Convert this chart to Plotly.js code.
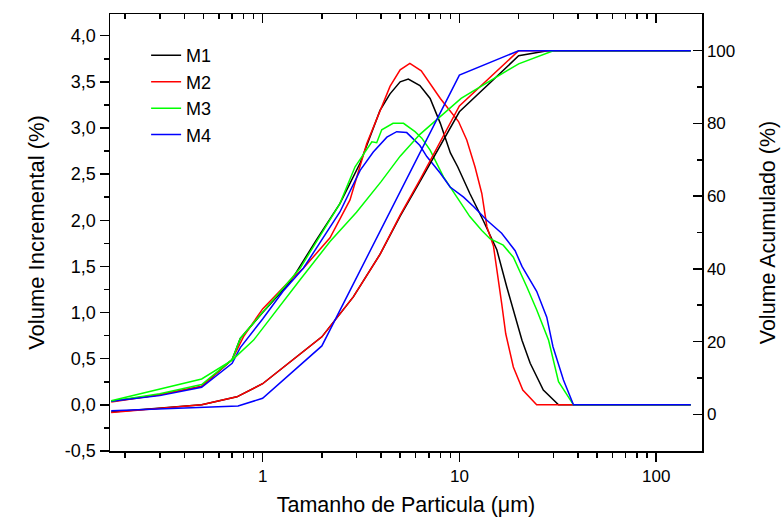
<!DOCTYPE html>
<html>
<head>
<meta charset="utf-8">
<script src="https://cdn.plot.ly/plotly-3.0.1.min.js"></script>
<style>html,body{margin:0;padding:0;background:#fff;}#chart{width:784px;height:517px;}</style>
</head>
<body>
<div id="chart"></div>
<script>
// ---- Data (particle size in µm) ----
const seriesNames = ["M1", "M2", "M3", "M4"];
const seriesColors = ["#000000", "#ff0000", "#00ff00", "#0000ff"];

// Incremental volume (%), left axis
const m1IncX = [0.17, 0.3, 0.49, 0.7, 0.77, 1.0, 1.38, 1.88, 2.47, 3.13, 3.95, 4.44, 5.0, 5.5, 6.3, 7.1, 8.0, 9.0, 9.8, 11.3, 13.2, 15.5, 17.4, 18.8, 20.8, 22.9, 26.7, 31.9, 150];
const m1IncY = [0.04, 0.11, 0.2, 0.49, 0.72, 1.0, 1.33, 1.79, 2.18, 2.62, 3.19, 3.37, 3.50, 3.53, 3.46, 3.32, 3.05, 2.73, 2.58, 2.29, 2.0, 1.68, 1.28, 1.03, 0.70, 0.45, 0.16, 0.0, 0.0];
const m2IncX = [0.17, 0.3, 0.49, 0.7, 0.8, 1.0, 1.38, 1.61, 2.2, 2.78, 3.38, 3.95, 4.44, 5.0, 5.6, 6.4, 7.1, 8.0, 9.9, 10.9, 12.0, 13.0, 13.8, 14.9, 16.4, 17.2, 18.8, 21.0, 24.7, 150];
const m2IncY = [0.03, 0.11, 0.2, 0.49, 0.74, 1.04, 1.35, 1.48, 1.81, 2.22, 2.83, 3.19, 3.45, 3.63, 3.70, 3.62, 3.48, 3.32, 3.07, 2.87, 2.58, 2.29, 1.93, 1.72, 1.1, 0.77, 0.41, 0.16, 0.0, 0.0];
const m3IncX = [0.17, 0.3, 0.49, 0.7, 0.77, 1.0, 1.55, 2.47, 2.95, 3.59, 3.8, 4.03, 4.6, 5.2, 5.95, 6.44, 7.1, 8.3, 9.7, 11.3, 13.0, 14.3, 16.7, 18.8, 22.0, 24.7, 28.4, 31.9, 38.0, 150];
const m3IncY = [0.04, 0.12, 0.22, 0.49, 0.72, 1.0, 1.48, 2.18, 2.58, 2.85, 2.84, 2.98, 3.05, 3.05, 2.96, 2.89, 2.76, 2.47, 2.25, 2.04, 1.89, 1.80, 1.73, 1.60, 1.28, 1.03, 0.70, 0.25, 0.0, 0.0];
const m4IncX = [0.17, 0.3, 0.49, 0.7, 0.77, 1.0, 1.27, 1.61, 2.47, 3.13, 3.65, 4.28, 4.8, 5.4, 6.3, 6.83, 8.0, 8.97, 10.5, 11.8, 13.8, 16.4, 19.2, 20.8, 24.7, 27.8, 29.9, 33.8, 38.0, 150];
const m4IncY = [0.04, 0.1, 0.19, 0.45, 0.62, 0.93, 1.23, 1.48, 2.09, 2.54, 2.74, 2.90, 2.96, 2.95, 2.81, 2.69, 2.51, 2.36, 2.25, 2.15, 2.0, 1.86, 1.67, 1.50, 1.23, 0.95, 0.63, 0.27, 0.0, 0.0];

// Cumulative volume (%), right axis
const m1CumX = [0.17, 0.49, 0.74, 1, 2, 2.89, 3.95, 5.0, 6.3, 10, 20, 28, 150];
const m1CumY = [0.6, 2.6, 4.8, 8.4, 21.3, 32.3, 44, 54.5, 64, 83.2, 98.6, 100, 100];
const m2CumX = [0.17, 0.49, 0.74, 1, 2, 2.89, 3.95, 5.0, 6.3, 10, 20, 150];
const m2CumY = [0.5, 2.6, 4.8, 8.4, 21.3, 32.3, 44, 54.8, 64.5, 84.8, 100, 100];
const m3CumX = [0.17, 0.49, 0.7, 0.9, 1.55, 2.2, 3, 4, 5, 6.3, 10.2, 20, 30, 150];
const m3CumY = [3.7, 9.7, 14.9, 20.4, 37, 47.5, 55.6, 64, 71, 77, 86.9, 96.4, 100, 100];
const m4CumX = [0.17, 0.75, 1, 2, 10, 20, 150];
const m4CumY = [1.0, 2.3, 4.4, 18.8, 93.3, 100, 100];

const xTickVals = [1, 10, 100];
const xTickText = ["1", "10", "100"];
const yLeftTicks = [-0.5, 0, 0.5, 1, 1.5, 2, 2.5, 3, 3.5, 4];
const yLeftText = ["-0,5", "0,0", "0,5", "1,0", "1,5", "2,0", "2,5", "3,0", "3,5", "4,0"];
const yRightTicks = [0, 20, 40, 60, 80, 100];

// ---- build ----
const incX = [m1IncX, m2IncX, m3IncX, m4IncX];
const incY = [m1IncY, m2IncY, m3IncY, m4IncY];
const cumX = [m1CumX, m2CumX, m3CumX, m4CumX];
const cumY = [m1CumY, m2CumY, m3CumY, m4CumY];

const FONT = 'Arial, "Liberation Sans", sans-serif';
const traces = [];
for (let i = 0; i < 4; i++) {
  traces.push({
    x: incX[i], y: incY[i], type: 'scatter', mode: 'lines',
    name: seriesNames[i],
    line: {color: seriesColors[i], width: 1.5},
    xaxis: 'x', yaxis: 'y', showlegend: true, hoverinfo: 'skip'
  });
}
for (let i = 0; i < 4; i++) {
  traces.push({
    x: cumX[i], y: cumY[i], type: 'scatter', mode: 'lines',
    name: seriesNames[i] + ' acum.',
    line: {color: seriesColors[i], width: 1.5},
    xaxis: 'x', yaxis: 'y2', showlegend: false, hoverinfo: 'skip'
  });
}
// empty trace that only makes the mirrored top axis exist
traces.push({x: [], y: [], type: 'scatter', mode: 'lines', xaxis: 'x2', yaxis: 'y', showlegend: false, hoverinfo: 'skip'});

// minor tick positions on the log axis (2..9 per decade)
const xMinor = [];
[0.1, 1, 10, 100].forEach(d => { for (let k = 2; k <= 9; k++) xMinor.push(d * k); });
const yLeftMinor = [];
for (let v = -0.25; v < 4.2; v += 0.5) yLeftMinor.push(Math.round(v * 100) / 100);
const yRightMinor = [10, 30, 50, 70, 90];

const xRange = [Math.log10(0.1676), Math.log10(171)];
const axisLine = {showline: true, linecolor: '#000', linewidth: 1.5, zeroline: false, showgrid: false, tickcolor: '#000', tickwidth: 1.5};

const layout = {
  width: 784, height: 517,
  margin: {l: 110, r: 82, t: 14, b: 66},
  paper_bgcolor: '#fff', plot_bgcolor: '#fff',
  separators: ',.',
  font: {family: FONT, color: '#000'},
  showlegend: true,
  legend: {
    x: 0.061, y: 0.947, xanchor: 'left', yanchor: 'top',
    font: {family: FONT, size: 18, color: '#000'},
    bgcolor: 'rgba(0,0,0,0)', borderwidth: 0, tracegroupgap: 0
  },
  xaxis: Object.assign({}, axisLine, {
    type: 'log', range: xRange, side: 'bottom', anchor: 'y',
    tickmode: 'array', tickvals: xTickVals, ticktext: xTickText,
    ticks: 'outside', ticklen: 9,
    tickfont: {family: FONT, size: 17},
    minor: {tickmode: 'array', tickvals: xMinor, ticks: 'outside', ticklen: 5, tickwidth: 1.5, tickcolor: '#000', showgrid: false},
    title: {text: 'Tamanho de Particula (μm)', font: {family: FONT, size: 21.5}, standoff: 14}
  }),
  xaxis2: Object.assign({}, axisLine, {
    type: 'log', range: xRange, side: 'top', overlaying: 'x', anchor: 'y',
    tickmode: 'array', tickvals: xTickVals, showticklabels: false,
    ticks: 'inside', ticklen: 9,
    minor: {tickmode: 'array', tickvals: xMinor, ticks: 'inside', ticklen: 5, tickwidth: 1.5, tickcolor: '#000', showgrid: false}
  }),
  yaxis: Object.assign({}, axisLine, {
    range: [-0.5, 4.235], anchor: 'x',
    tickmode: 'array', tickvals: yLeftTicks, ticktext: yLeftText,
    ticks: 'outside', ticklen: 9,
    tickfont: {family: FONT, size: 18},
    minor: {tickmode: 'array', tickvals: yLeftMinor, ticks: 'outside', ticklen: 5, tickwidth: 1.5, tickcolor: '#000', showgrid: false},
    title: {text: 'Volume Incremental (%)', font: {family: FONT, size: 22}, standoff: 14}
  }),
  yaxis2: Object.assign({}, axisLine, {
    range: [-10.1, 110.1], overlaying: 'y', side: 'right', anchor: 'x',
    tickmode: 'array', tickvals: yRightTicks,
    ticks: 'inside', ticklen: 9,
    tickfont: {family: FONT, size: 17},
    minor: {tickmode: 'array', tickvals: yRightMinor, ticks: 'inside', ticklen: 5, tickwidth: 1.5, tickcolor: '#000', showgrid: false},
    title: {text: 'Volume Acumulado (%)', font: {family: FONT, size: 21.5}, standoff: 25}
  })
};

Plotly.newPlot('chart', traces, layout, {staticPlot: true, displayModeBar: false});
</script>
</body>
</html>
